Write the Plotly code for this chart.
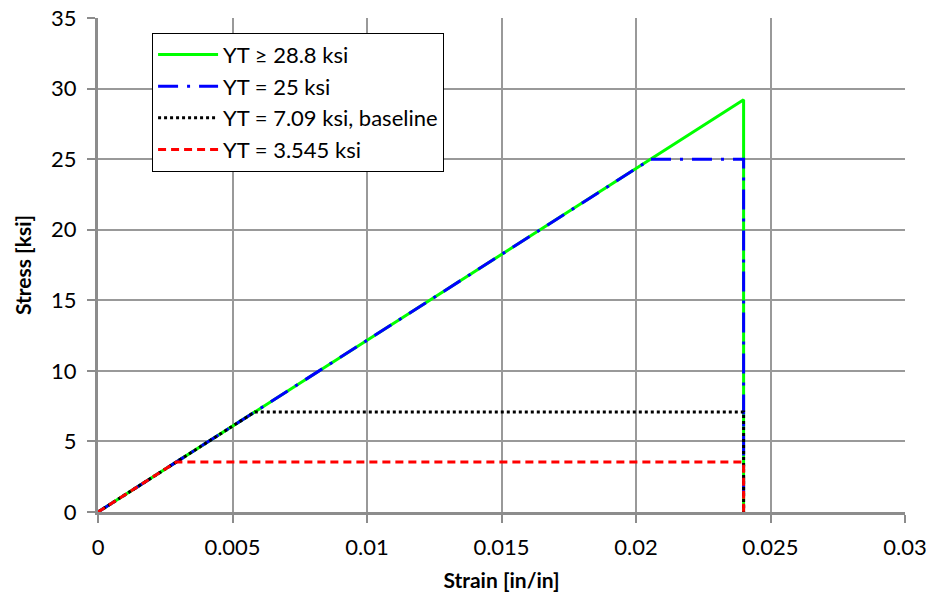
import plotly.graph_objects as go

# Data
names = ["YT \u2265 28.8 ksi", "YT = 25 ksi", "YT = 7.09 ksi, baseline", "YT = 3.545 ksi"]
strain_green = [0, 0.024, 0.024]
stress_green = [0, 29.2, 0]
strain_blue = [0, 0.02055, 0.024, 0.024]
stress_blue = [0, 25, 25, 0]
strain_black = [0, 0.00583, 0.024, 0.024]
stress_black = [0, 7.09, 7.09, 0]
strain_red = [0, 0.00291, 0.024, 0.024]
stress_red = [0, 3.545, 3.545, 0]

x_ticks = [0, 0.005, 0.01, 0.015, 0.02, 0.025, 0.03]
x_labels = ["0", "0.005", "0.01", "0.015", "0.02", "0.025", "0.03"]
y_ticks = [0, 5, 10, 15, 20, 25, 30, 35]

font_family = "Lato, Open Sans, sans-serif"

fig = go.Figure()
fig.add_trace(go.Scatter(x=strain_green, y=stress_green, mode="lines", name=names[0],
                         line=dict(color="#00FF00", width=3)))
fig.add_trace(go.Scatter(x=strain_blue, y=stress_blue, mode="lines", name=names[1],
                         line=dict(color="#0000FF", width=3, dash="20px,9px,3px,9px")))
fig.add_trace(go.Scatter(x=strain_black, y=stress_black, mode="lines", name=names[2],
                         line=dict(color="#000000", width=3, dash="3px,3px")))
fig.add_trace(go.Scatter(x=strain_red, y=stress_red, mode="lines", name=names[3],
                         line=dict(color="#FF0000", width=3, dash="8px,5px")))

axis_common = dict(showgrid=True, gridcolor="#999999", gridwidth=2,
                   showline=True, linecolor="#8c8c8c", linewidth=3,
                   ticks="outside", ticklen=8, tickwidth=2, tickcolor="#8c8c8c",
                   zeroline=False, automargin=False,
                   tickfont=dict(size=22, color="black", family=font_family))

fig.update_layout(
    width=930, height=604,
    margin=dict(l=98, r=25, t=18, b=92),
    paper_bgcolor="white", plot_bgcolor="white",
    font=dict(family=font_family, color="black"),
    xaxis=dict(range=[0, 0.03], tickvals=x_ticks, ticktext=x_labels,
               title=dict(text="<b>Strain [in/in]</b>", font=dict(size=21), standoff=14),
               ticklabelstandoff=6, **axis_common),
    yaxis=dict(range=[0, 35], tickvals=y_ticks,
               title=dict(text="<b>Stress [ksi]</b>", font=dict(size=21), standoff=14),
               ticklabelstandoff=6, **axis_common),
    legend=dict(x=0.067, y=0.97, xanchor="left", yanchor="top",
                bgcolor="white", bordercolor="black", borderwidth=1,
                font=dict(size=22, family=font_family),
                itemwidth=60),
    showlegend=True,
)

fig.write_html("out.html")
